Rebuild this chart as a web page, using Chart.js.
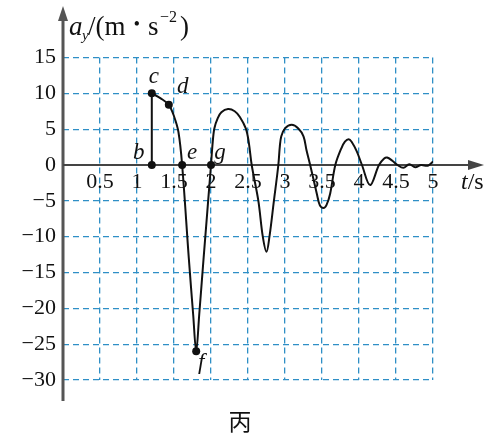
<!DOCTYPE html>
<html><head><meta charset="utf-8">
<script src="https://cdn.jsdelivr.net/npm/chart.js@4"></script>
<style>html,body{margin:0;padding:0;background:#fff}canvas{display:block}</style>
</head><body>
<canvas id="c" width="491" height="443"></canvas>
<script>
// ---- data ----
const curveT = [1.2, 1.32, 1.43, 1.5, 1.56, 1.61, 1.70, 1.76, 1.8, 1.84, 1.9, 2.0, 2.02, 2.045, 2.09, 2.14, 2.23, 2.32, 2.39, 2.47, 2.51, 2.55, 2.64, 2.70, 2.75, 2.79, 2.85, 2.91, 2.93, 2.95, 3.0, 3.09, 3.18, 3.25, 3.29, 3.34, 3.43, 3.47, 3.52, 3.56, 3.61, 3.68, 3.76, 3.81, 3.86, 3.90, 3.97, 4.04, 4.15, 4.27, 4.34, 4.38, 4.45, 4.52, 4.6, 4.68, 4.76, 4.84, 4.93, 5.0];
const curveA = [10, 9.3, 8.4, 6.8, 4.6, 0, -13, -21, -26, -21, -13, 0, 2.8, 5.1, 6.5, 7.35, 7.8, 7.5, 6.7, 5.1, 3.2, 0, -5, -10, -12.1, -10, -5, 0, 2.6, 4.0, 5.1, 5.6, 5.1, 4.0, 2.1, 0, -4.0, -5.6, -6.0, -5.6, -4.0, 0, 2.3, 3.25, 3.6, 3.25, 1.9, 0, -2.8, 0, 0.9, 1.05, 0.6, 0, -0.4, 0.1, -0.3, 0, -0.1, 0.5];
const stepT = [1.2, 1.2];
const stepA = [0, 10];
const pointNames = ['b', 'c', 'd', 'e', 'f', 'g'];
const pointT = [1.2, 1.2, 1.43, 1.61, 1.8, 2.0];
const pointA = [0, 10, 8.4, 0, -26, 0];
const xTicks = [0.5, 1, 1.5, 2, 2.5, 3, 3.5, 4, 4.5, 5];
const yTicks = [15, 10, 5, 0, -5, -10, -15, -20, -25, -30];
const xUnit = 't/s';
const caption = '丙';

// ---- styling / layout ----
const SERIF = '"Liberation Serif", "DejaVu Serif", serif';
const GRID = '#2f8fc6';
const AXIS = '#555';
const labelOffsets = { b: [-13, -12], c: [2, -16], d: [14, -18], e: [10, -12], f: [5, 12], g: [9, -12] };

const toXY = (ts, as) => ts.map((t, i) => ({ x: t, y: as[i] }));

const overlay = {
  id: 'overlay',
  beforeDatasetsDraw(chart) {
    const ctx = chart.ctx, xs = chart.scales.x, ys = chart.scales.y;
    const x0 = xs.getPixelForValue(0), y0 = ys.getPixelForValue(0);
    ctx.save();
    ctx.strokeStyle = AXIS; ctx.fillStyle = AXIS;
    ctx.lineWidth = 3;
    ctx.beginPath(); ctx.moveTo(x0, chart.chartArea.bottom + 21); ctx.lineTo(x0, 18); ctx.stroke();
    ctx.beginPath(); ctx.moveTo(x0, 6); ctx.lineTo(x0 - 5, 21); ctx.lineTo(x0 + 5, 21); ctx.closePath(); ctx.fill();
    ctx.strokeStyle = '#444'; ctx.fillStyle = '#444';
    ctx.lineWidth = 2;
    ctx.beginPath(); ctx.moveTo(x0, y0); ctx.lineTo(472, y0); ctx.stroke();
    ctx.beginPath(); ctx.moveTo(484, y0); ctx.lineTo(468, y0 - 5); ctx.lineTo(468, y0 + 5); ctx.closePath(); ctx.fill();
    ctx.restore();
  },
  afterDraw(chart) {
    const ctx = chart.ctx, xs = chart.scales.x, ys = chart.scales.y;
    const x0 = xs.getPixelForValue(0);
    ctx.save();
    ctx.fillStyle = '#111';
    ctx.textBaseline = 'alphabetic';
    const base = 35;
    ctx.font = 'italic 27px ' + SERIF; ctx.fillText('a', x0 + 6, base);
    ctx.font = 'italic 15px ' + SERIF; ctx.fillText('y', x0 + 19, base + 5);
    ctx.font = '27px ' + SERIF; ctx.fillText('/(m', x0 + 25, base);
    ctx.font = 'bold 16px ' + SERIF; ctx.fillText('•', x0 + 71, base - 6);
    ctx.font = '27px ' + SERIF; ctx.fillText('s', x0 + 85, base);
    ctx.font = '16px ' + SERIF; ctx.fillText('−2', x0 + 97, base - 13);
    ctx.font = '27px ' + SERIF; ctx.fillText(')', x0 + 117, base);
    let ux = 461; const ub = 189;
    ctx.font = 'italic 24px ' + SERIF; ctx.fillText(xUnit.charAt(0), ux, ub); ux += ctx.measureText(xUnit.charAt(0)).width;
    ctx.font = '24px ' + SERIF; ctx.fillText(xUnit.slice(1), ux, ub);
    ctx.font = 'italic 23px ' + SERIF;
    ctx.textAlign = 'center'; ctx.textBaseline = 'middle';
    pointNames.forEach((n, i) => {
      const px = xs.getPixelForValue(pointT[i]), py = ys.getPixelForValue(pointA[i]);
      const o = labelOffsets[n];
      ctx.fillText(n, px + o[0], py + o[1]);
    });
    ctx.font = '23px "Noto Sans CJK SC", sans-serif';
    ctx.fillText(caption, 240, 421);
    ctx.restore();
  }
};

new Chart(document.getElementById('c'), {
  type: 'scatter',
  plugins: [overlay],
  data: {
    datasets: [
      { data: toXY(curveT, curveA), showLine: true, borderColor: '#111', borderWidth: 2, pointRadius: 0, tension: 0.35, fill: false },
      { data: toXY(stepT, stepA), showLine: true, borderColor: '#111', borderWidth: 2, pointRadius: 0, tension: 0 },
      { data: toXY(pointT, pointA), showLine: false, pointRadius: 4, pointBackgroundColor: '#111', pointBorderColor: '#111', pointBorderWidth: 0 }
    ]
  },
  options: {
    responsive: false,
    animation: false,
    events: [],
    layout: { padding: { left: 0, right: 58, top: 57.5, bottom: 63 } },
    plugins: { legend: { display: false }, tooltip: { enabled: false } },
    scales: {
      x: {
        type: 'linear', min: 0, max: 5,
        position: { y: 0 },
        afterBuildTicks: s => { s.ticks = xTicks.map(v => ({ value: v })); },
        ticks: { autoSkip: false, maxRotation: 0, padding: 4, color: '#111', font: { family: SERIF, size: 22 },
          callback: v => String(v) },
        grid: { color: GRID, lineWidth: 1.3, drawTicks: false },
        border: { display: false, dash: [6, 4] }
      },
      y: {
        type: 'linear', min: -30, max: 15,
        afterFit: s => { s.width = 63; },
        afterBuildTicks: s => { s.ticks = yTicks.map(v => ({ value: v })); },
        ticks: { padding: 7, color: '#111', font: { family: SERIF, size: 22 },
          callback: v => v < 0 ? '−' + Math.abs(v) : String(v) },
        grid: { color: GRID, lineWidth: 1.3, drawTicks: false },
        border: { display: false, dash: [6, 4] }
      }
    }
  }
});
</script>
</body></html>
